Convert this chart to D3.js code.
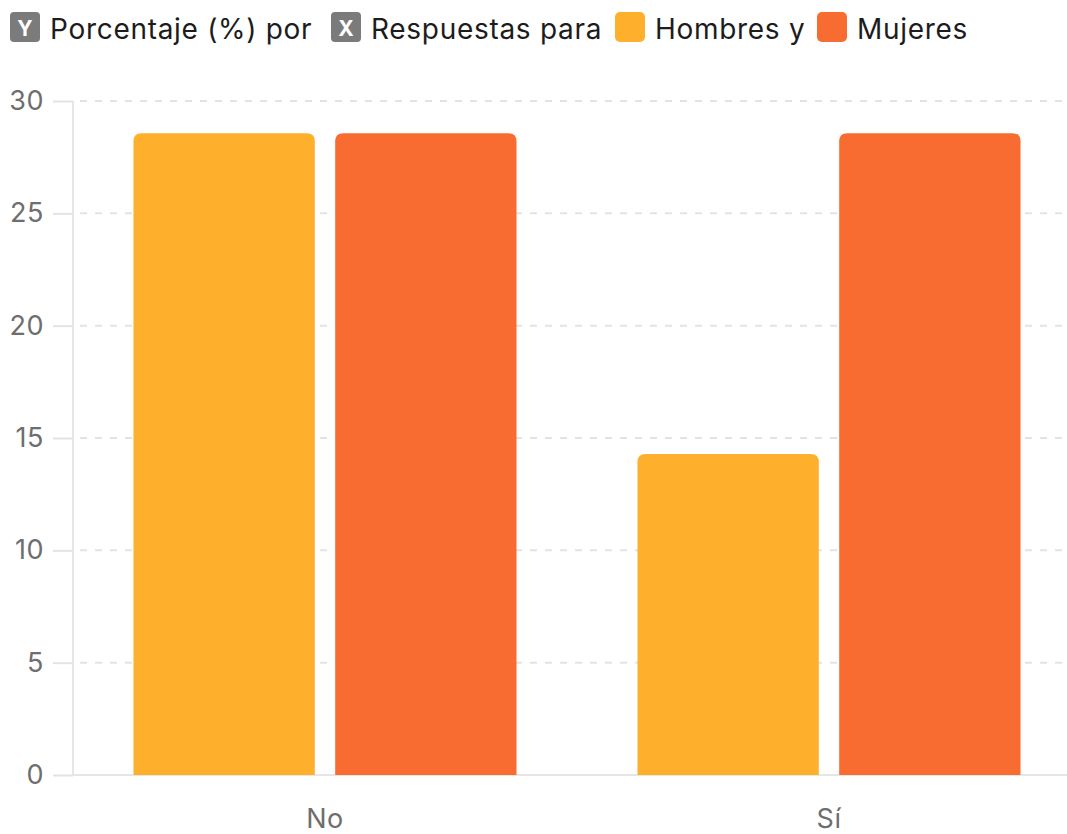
<!DOCTYPE html>
<html><head><meta charset="utf-8">
<script src="https://cdn.jsdelivr.net/npm/d3@7"></script>
<style>
html,body{margin:0;padding:0;background:#fff;}
svg{display:block;font-family:Inter,"Noto Sans",sans-serif;}
</style></head>
<body><svg id="c" width="1067" height="834"></svg>
<script>
const categories = ["No", "Sí"];
const seriesNames = ["Hombres", "Mujeres"];
const hombres = [28.57, 14.29];
const mujeres = [28.57, 28.57];
const yTicks = [0, 5, 10, 15, 20, 25, 30];
const legendItems = [
  {type:"badge", mark:"Y", text:"Porcentaje (%) por"},
  {type:"badge", mark:"X", text:"Respuestas para"},
  {type:"swatch", key:"Hombres", text:"Hombres y"},
  {type:"swatch", key:"Mujeres", text:"Mujeres"}
];
const colors = {Hombres:"#FEB02C", Mujeres:"#F96C31"};

const svg = d3.select("#c");
const x0 = 73, x1 = 1081, yTop = 101, yBot = 775;

const y = d3.scaleLinear().domain([0,30]).range([yBot, yTop]);
const xg = d3.scaleBand().domain(categories).range([x0, x1]).paddingInner(0.24).paddingOuter(0.12);
const xs = d3.scaleBand().domain(seriesNames).range([0, xg.bandwidth()]).paddingInner(0.101).paddingOuter(0);

// grid
const grid = svg.append("g");
yTicks.filter(t=>t>0).forEach(t=>{
  grid.append("line").attr("x1", x0).attr("x2", 1067).attr("y1", y(t)).attr("y2", y(t))
    .attr("stroke", "#e3e3e3").attr("stroke-width", 2).attr("stroke-dasharray", "7,8")
    .attr("stroke-dashoffset", -7);
});

// y axis
const yAxis = d3.axisLeft(y).tickValues(yTicks).tickSize(20).tickPadding(9).tickFormat(d3.format("d"));
const gy = svg.append("g").attr("transform", `translate(${x0},0)`).call(yAxis);
gy.select(".domain").attr("stroke", "#e6e6e6").attr("stroke-width", 2).attr("d", `M0,${yTop}V${yBot}`);
gy.selectAll(".tick line").attr("stroke", "#e3e3e3").attr("stroke-width", 2);
gy.selectAll(".tick text").attr("fill", "#6e6e6e").style("font-size", "27px").style("letter-spacing", "0.5px").style("font-family", "Inter, sans-serif");

// x axis
const xAxis = d3.axisBottom(xg).tickSize(0).tickPadding(34);
const gx = svg.append("g").attr("transform", `translate(0,${yBot})`).call(xAxis);
gx.select(".domain").attr("stroke", "#e6e6e6").attr("stroke-width", 2).attr("d", `M${x0},0H1067`);
gx.selectAll(".tick text").attr("fill", "#6e6e6e").style("font-size", "27px").style("letter-spacing", "0.5px").style("font-family", "Inter, sans-serif");

// bars
function topRounded(xp, yp, w, h, r){
  r = Math.min(r, h, w/2);
  return `M${xp},${yp+h}V${yp+r}Q${xp},${yp} ${xp+r},${yp}H${xp+w-r}Q${xp+w},${yp} ${xp+w},${yp+r}V${yp+h}Z`;
}
const rows = [];
categories.forEach((c,i)=>{
  rows.push({cat:c, key:"Hombres", v:hombres[i]});
  rows.push({cat:c, key:"Mujeres", v:mujeres[i]});
});
svg.append("g").selectAll("path").data(rows).join("path")
  .attr("d", d => topRounded(xg(d.cat)+xs(d.key), y(d.v), xs.bandwidth(), y(0)-y(d.v), 8))
  .attr("fill", d => colors[d.key]);

// legend
const legX = [10, 331, 615, 817];
const lg = svg.append("g");
legendItems.forEach((it,i)=>{
  const g = lg.append("g").attr("transform", `translate(${legX[i]},12)`);
  if(it.type==="badge"){
    g.append("rect").attr("width",30).attr("height",30).attr("rx",4).attr("fill","#7b7b7b");
    g.append("text").attr("x",15).attr("y",24).attr("text-anchor","middle").attr("fill","#fff")
      .style("font-size","21px").style("font-weight","700").text(it.mark);
  } else {
    g.append("rect").attr("width",30).attr("height",30).attr("rx",5).attr("fill",colors[it.key]);
  }
  g.append("text").attr("x",40).attr("y",27).attr("fill","#1c1c1c").style("font-size","28px")
    .style("letter-spacing","0.7px").text(it.text);
});
</script></body></html>
